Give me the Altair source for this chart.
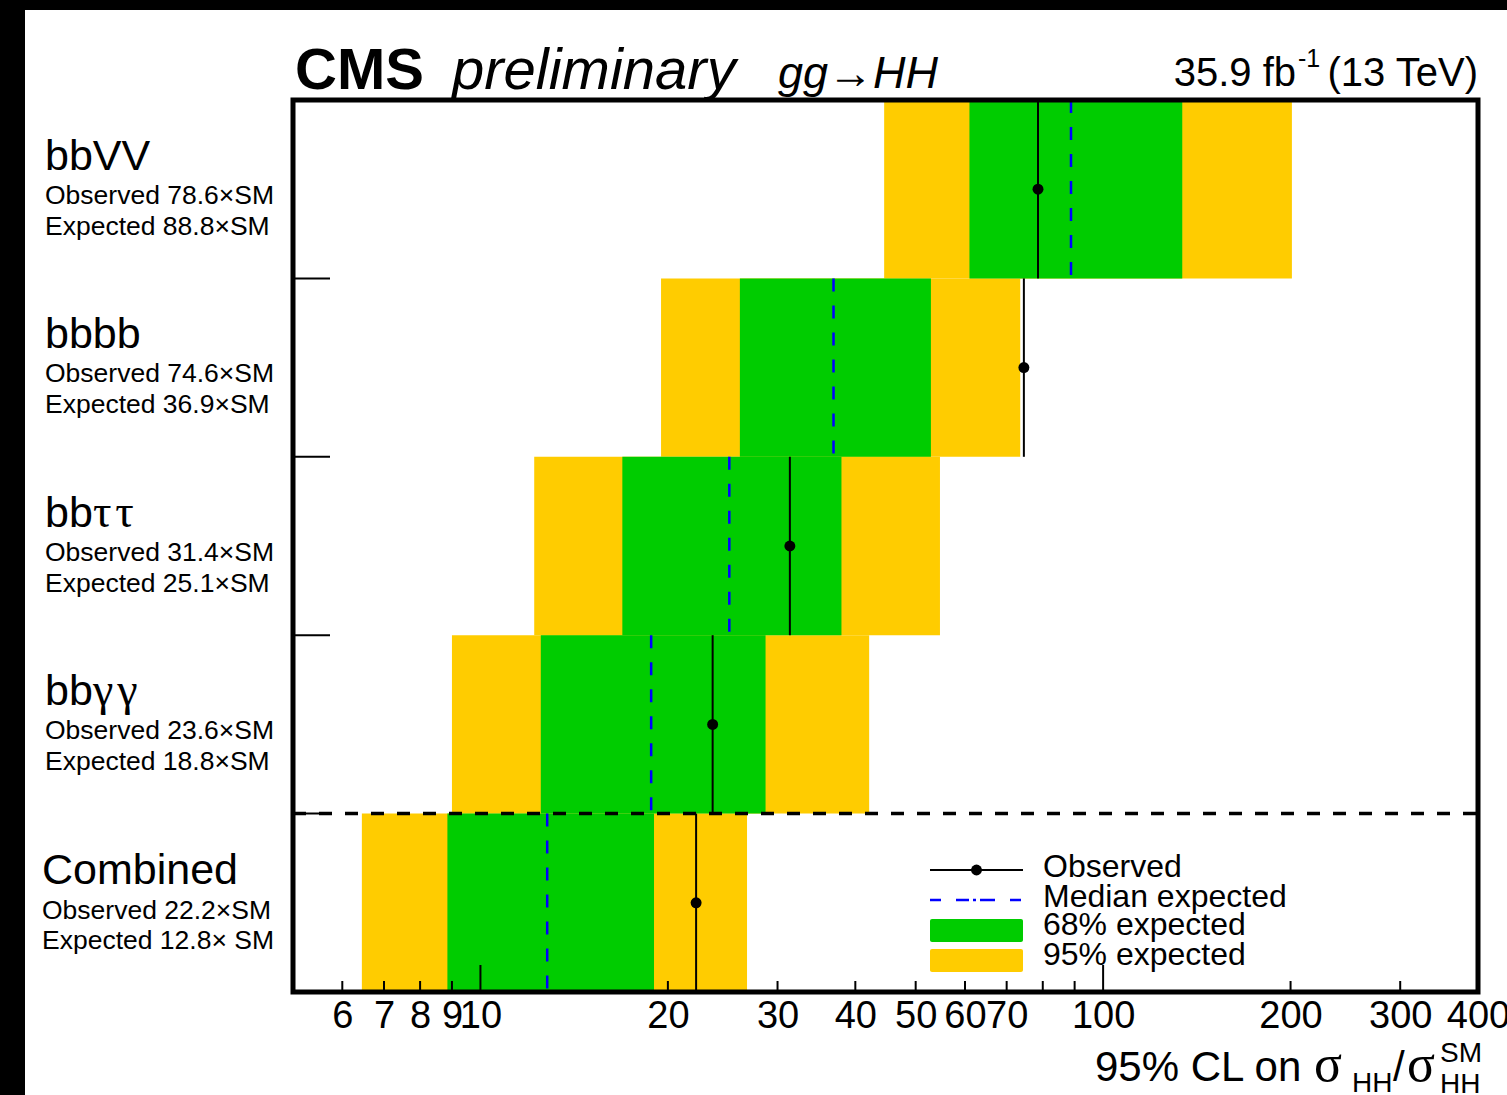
import altair as alt
import pandas as pd

# ---------------- data ----------------
channels = ["bbVV", "bbbb", "bbττ", "bbγγ", "Combined"]
observed = [78.6, 74.6, 31.4, 23.6, 22.2]
expected = [88.8, 36.9, 25.1, 18.8, 12.8]
lo95 = [44.5, 19.5, 12.2, 9.0, 6.45]
lo68 = [61.0, 26.1, 16.9, 12.5, 8.85]
hi68 = [134.0, 52.9, 38.0, 28.7, 19.0]
hi95 = [201.0, 73.6, 54.7, 42.1, 26.8]
obs_text = ["Observed 78.6×SM", "Observed 74.6×SM", "Observed 31.4×SM",
            "Observed 23.6×SM", "Observed 22.2×SM"]
exp_text = ["Expected 88.8×SM", "Expected 36.9×SM", "Expected 25.1×SM",
            "Expected 18.8×SM", "Expected 12.8× SM"]
x_tick_labels = [6, 7, 8, 9, 10, 20, 30, 40, 50, 60, 70, 100, 200, 300, 400]
minor_ticks = [6, 7, 8, 9, 20, 30, 40, 50, 60, 70, 80, 90, 200, 300]
major_ticks = [10, 100]
row_bounds = [1, 2, 3, 4]
legend_labels = ["Observed", "Median expected", "68% expected", "95% expected"]

# ---------------- layout ----------------
W, H = 1185, 892
PAD = {"left": 293, "top": 100, "right": 29, "bottom": 103}
SANS = "Liberation Sans"
SERIF = "Liberation Serif"
YELLOW = "#FFCC00"
GREEN = "#00CC00"
BLUE = "#0000FF"

latin = ["".join(c for c in s if c.isascii()) for s in channels]
greek = ["".join(c for c in s if not c.isascii()) for s in channels]
greek = ["\u200a".join(g) if g else g for g in greek]

n = len(channels)
df = pd.DataFrame({
    "channel": channels, "latin": latin, "greek": greek,
    "observed": observed, "expected": expected,
    "lo95": lo95, "lo68": lo68, "hi68": hi68, "hi95": hi95,
    "obs_text": obs_text, "exp_text": exp_text,
    "row": list(range(n)),
})
df["row1"] = df["row"] + 1
df["mid"] = df["row"] + 0.5

xs = alt.Scale(type="log", domain=[5, 400], nice=False)
ys = alt.Scale(domain=[0, n], reverse=True, nice=False, zero=False)
xaxis = alt.Axis(values=x_tick_labels, format="d", ticks=False, domain=False,
                 grid=False, labelFontSize=38, labelFont=SANS,
                 labelColor="black", labelPadding=5, labelOverlap=False,
                 labelBound=False, labelFlush=False, title=None)

one = pd.DataFrame({"a": [0]})


def X(field):
    return alt.X(f"{field}:Q", scale=xs, axis=xaxis)


def Y(field):
    return alt.Y(f"{field}:Q", scale=ys, axis=None)


def txt(s, x, y, size, font=SANS, align="left", **kw):
    return alt.Chart(one).mark_text(
        text=s, fontSize=size, font=font, align=align,
        baseline="alphabetic", color="black", **kw
    ).encode(x=alt.value(x), y=alt.value(y))


base = alt.Chart(df)

band95 = base.mark_rect(color=YELLOW).encode(x=X("lo95"), x2="hi95", y=Y("row"), y2="row1")
band68 = base.mark_rect(color=GREEN).encode(x=X("lo68"), x2="hi68", y=Y("row"), y2="row1")
exp_line = base.mark_rule(color=BLUE, strokeWidth=2.5, strokeDash=[13, 14]).encode(
    x=X("expected"), y=Y("row"), y2="row1")
obs_line = base.mark_rule(color="black", strokeWidth=2).encode(
    x=X("observed"), y=Y("row"), y2="row1")
obs_dot = base.mark_circle(color="black", size=120, opacity=1).encode(
    x=X("observed"), y=Y("mid"))

sep = alt.Chart(pd.DataFrame({"b": [row_bounds[-1]]})).mark_rule(
    color="black", strokeWidth=3.5, strokeDash=[13, 13]
).encode(y=Y("b"), x=alt.value(0), x2=alt.value(W))

left_ticks = alt.Chart(pd.DataFrame({"b": row_bounds})).mark_rule(
    color="black", strokeWidth=2
).encode(y=Y("b"), x=alt.value(0), x2=alt.value(37))

minor = alt.Chart(pd.DataFrame({"v": minor_ticks})).mark_rule(
    color="black", strokeWidth=2
).encode(x=X("v"), y=alt.value(H), y2=alt.value(H - 11))
major = alt.Chart(pd.DataFrame({"v": major_ticks})).mark_rule(
    color="black", strokeWidth=2
).encode(x=X("v"), y=alt.value(H), y2=alt.value(H - 27))

frame = alt.Chart(one).mark_rect(
    fillOpacity=0, stroke="black", strokeWidth=5
).encode(x=alt.value(0), x2=alt.value(W), y=alt.value(0), y2=alt.value(H))

# ---------------- row labels (left of the plot) ----------------
main_rows = df[df["row"] < n - 1]
comb_rows = df[df["row"] == n - 1]
LX = -248
SUB = 26.5
head = alt.Chart(main_rows).mark_text(
    fontSize=43, font=SANS, align="left", baseline="alphabetic", color="black", dy=70
).encode(y=Y("row"), x=alt.value(LX), text="latin:N")
head_gr = alt.Chart(main_rows).mark_text(
    fontSize=46, font=SERIF, align="left", baseline="alphabetic", color="black", dy=70
).encode(y=Y("row"), x=alt.value(LX + 48), text="greek:N")
obs_lab = alt.Chart(main_rows).mark_text(
    fontSize=SUB, font=SANS, align="left", baseline="alphabetic", color="black", dy=104
).encode(y=Y("row"), x=alt.value(LX), text="obs_text:N")
exp_lab = alt.Chart(main_rows).mark_text(
    fontSize=SUB, font=SANS, align="left", baseline="alphabetic", color="black", dy=135
).encode(y=Y("row"), x=alt.value(LX), text="exp_text:N")
CX = -251
c_head = alt.Chart(comb_rows).mark_text(
    fontSize=43, font=SANS, align="left", baseline="alphabetic", color="black", dy=70
).encode(y=Y("row"), x=alt.value(CX), text="latin:N")
c_obs = alt.Chart(comb_rows).mark_text(
    fontSize=SUB, font=SANS, align="left", baseline="alphabetic", color="black", dy=105
).encode(y=Y("row"), x=alt.value(CX), text="obs_text:N")
c_exp = alt.Chart(comb_rows).mark_text(
    fontSize=SUB, font=SANS, align="left", baseline="alphabetic", color="black", dy=135
).encode(y=Y("row"), x=alt.value(CX), text="exp_text:N")

# ---------------- legend ----------------
LG0, LG1 = 637, 730
leg = [
    alt.Chart(one).mark_rule(color="black", strokeWidth=2).encode(
        x=alt.value(LG0), x2=alt.value(LG1), y=alt.value(770)),
    alt.Chart(one).mark_circle(color="black", size=120, opacity=1).encode(
        x=alt.value((LG0 + LG1) / 2), y=alt.value(770)),
    alt.Chart(one).mark_rule(color=BLUE, strokeWidth=2.5,
                             strokeDash=[11, 15, 13, 4, 3, 4, 15, 15]).encode(
        x=alt.value(LG0), x2=alt.value(LG1), y=alt.value(800)),
    alt.Chart(one).mark_rect(color=GREEN, cornerRadius=2).encode(
        x=alt.value(LG0), x2=alt.value(LG1), y=alt.value(819), y2=alt.value(842)),
    alt.Chart(one).mark_rect(color=YELLOW, cornerRadius=2).encode(
        x=alt.value(LG0), x2=alt.value(LG1), y=alt.value(849), y2=alt.value(872)),
]
for i, lab in enumerate(legend_labels):
    leg.append(txt(lab, 750, [777, 807, 835, 865][i], 32))

# ---------------- titles ----------------
titles = [
    txt("CMS", 2, -11, 58, fontWeight="bold"),
    txt("preliminary", 159, -11, 58, fontStyle="italic"),
    txt("gg→HH", 485, -12, 45, fontStyle="italic"),
    txt("(13 TeV)", W, -14, 40, align="right"),
    txt("35.9 fb", 1003, -14, 40, align="right"),
    txt("-1", 1005, -33, 25),
    # x-axis title
    txt("95% CL on", 802, 981, 42),
    txt("σ", 1021, 981, 52, font=SERIF),
    txt("HH", 1059, 992, 28),
    txt("/", 1100, 981, 42),
    txt("σ", 1114, 981, 52, font=SERIF),
    txt("SM", 1147, 962, 28),
    txt("HH", 1147, 993, 28),
]

# black edge stripes of the original figure
stripes = [
    alt.Chart(one).mark_rect(color="black").encode(
        x=alt.value(-PAD["left"]), x2=alt.value(-PAD["left"] + 25),
        y=alt.value(-PAD["top"]), y2=alt.value(H + PAD["bottom"])),
    alt.Chart(one).mark_rect(color="black").encode(
        x=alt.value(-PAD["left"]), x2=alt.value(W + PAD["right"]),
        y=alt.value(-PAD["top"]), y2=alt.value(-PAD["top"] + 10)),
]

chart = alt.layer(
    band95, band68, exp_line, obs_line, obs_dot, sep, left_ticks, minor, major,
    frame, head, head_gr, obs_lab, exp_lab, c_head, c_obs, c_exp,
    *leg, *titles, *stripes
).properties(
    width=W, height=H,
    autosize=alt.AutoSizeParams(type="none"),
    padding=PAD,
    background="white",
).configure_view(stroke="transparent")

chart.save("out.html", embed_options={"renderer": "svg", "actions": False})
